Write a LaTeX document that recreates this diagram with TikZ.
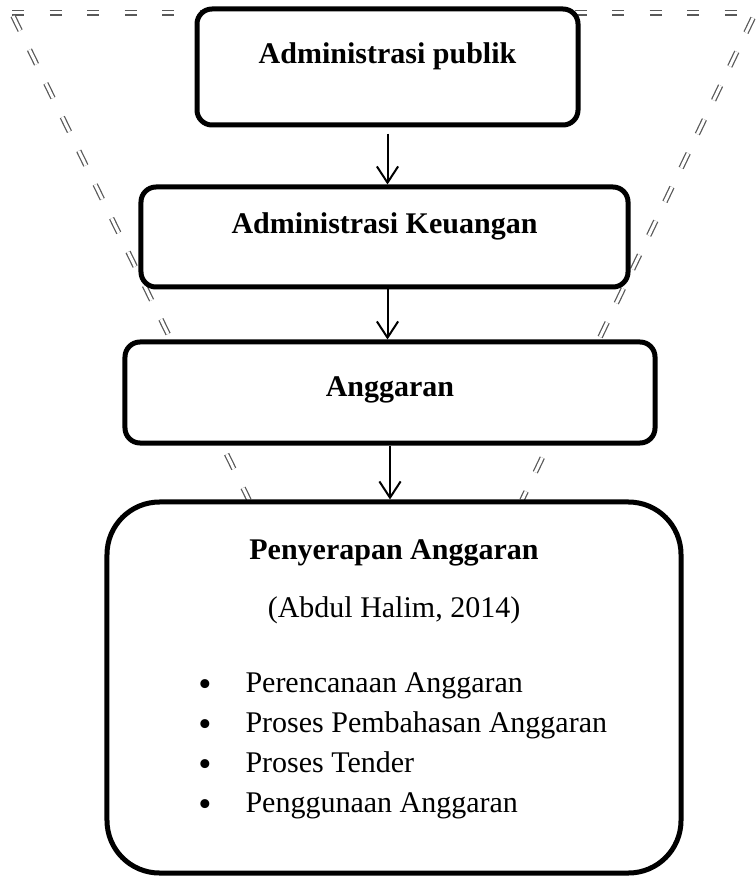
\documentclass[tikz,border=0pt]{standalone}
\usepackage{fontspec}
\setmainfont{Liberation Serif}
\usetikzlibrary{arrows.meta,positioning}
\begin{document}
\begin{tikzpicture}[x=0.4pt, y=-0.4pt, line join=round, font=\fontsize{12}{14.4}\selectfont, >={Straight Barb[length=6.5pt,width=8.5pt]}]
	\tikzset{kotak/.style={draw, line width=2pt, fill=white, rounded corners=6pt, inner sep=0pt, font=\fontsize{12}{14.4}\selectfont\bfseries, text height=8pt},
		corong/.style={draw=black!65, line width=0.5pt, double=white, double distance=1.2pt},
		panah/.style={->, line width=0.8pt}}
	\useasboundingbox (0,0) rectangle (755,878);
	% corong putus-putus
	\draw[corong, dash pattern=on 4.8pt off 10.2pt] (12,13) -- (748,13);
	\draw[corong, dash pattern=on 6.5pt off 8.5pt] (13,16) -- (249,500);
	\draw[corong, dash pattern=on 6.5pt off 8.5pt] (753,18) -- (522,500);
	% kotak-kotak
	\node[kotak, minimum width=152.4pt, minimum height=46.4pt, text depth=10.4pt] (publik) at (387.5,67) {Administrasi publik};
	\node[kotak, minimum width=194.8pt, minimum height=40pt, text depth=11pt] (keuangan) at (384.5,237) {Administrasi Keuangan};
	\node[kotak, minimum width=212pt, minimum height=40.4pt, text depth=5.2pt] (anggaran) at (390,392.5) {Anggaran};
	\node[kotak, minimum width=229.6pt, minimum height=148.4pt, rounded corners=21pt] (serapan) at (394,687.5) {};
	\node[anchor=base, font=\fontsize{12}{14.4}\selectfont\bfseries] (judul) at (394,559) {Penyerapan Anggaran};
	\node[anchor=base] (sumber) at (394,617) {(Abdul Halim, 2014)};
	\foreach \teks [count=\i] in {Perencanaan Anggaran, Proses Pembahasan Anggaran, Proses Tender, Penggunaan Anggaran}{
		\node[anchor=base, font=\fontsize{15}{15}\selectfont] (titik\i) at (205,656+40*\i) {\textbullet};
		\node[anchor=base west, inner sep=0pt] (butir\i) at (245,652+40*\i) {\teks};
	}
	% panah
	\draw[panah, shorten <=2.5pt] (publik.south) -- (publik.south |- keuangan.north);
	\draw[panah] (keuangan.south -| publik.south) -- (publik.south |- anggaran.north);
	\draw[panah] (anggaran.south) -- (anggaran.south |- serapan.north);
\end{tikzpicture}
\end{document}
